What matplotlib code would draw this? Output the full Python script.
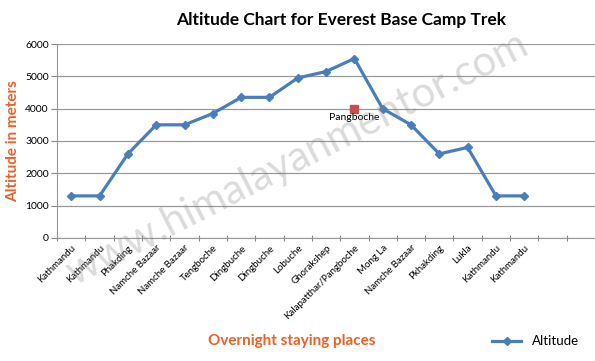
import matplotlib
matplotlib.use("Agg")
from matplotlib import pyplot as plt
import numpy as np

plt.rcParams['font.family'] = ['Lato', 'DejaVu Sans']

# Data
places = ["Kathmandu", "Kathmandu", "Phakding", "Namche Bazaar", "Namche Bazaar",
          "Tengboche", "Dingbuche", "Dingbuche", "Lobuche", "Ghorakshep",
          "Kalapatthar/Pangboche", "Mong La", "Namche Bazaar", "Pkhakding",
          "Lukla", "Kathmandu", "Kathmandu", "", ""]
altitude = [1300, 1300, 2600, 3500, 3500, 3850, 4350, 4350, 4950, 5150,
            5550, 4000, 3500, 2600, 2800, 1300, 1300]
extra_label = "Pangboche"
extra_index = 10
extra_value = 4000
yticks = [0, 1000, 2000, 3000, 4000, 5000, 6000]

orange = "#e8622a"
blue = "#4a7ebb"

fig = plt.figure(figsize=(5.95, 3.61), dpi=100)
ax = fig.add_axes([0.096, 0.341, 0.904, 0.537])

x = np.arange(len(altitude)) + 0.5
ax.plot(x, altitude, color=blue, lw=2.3, marker='D', ms=4.5, label="Altitude")
ax.plot([extra_index + 0.5], [extra_value], marker='s', color="#c0504d", ms=6, ls='none')
ax.text(extra_index + 0.5, extra_value - 130, extra_label, ha='center', va='top', fontsize=7.5)

ax.set_xlim(0, len(places))
ax.set_ylim(0, 6000)
ax.set_yticks(yticks)
ax.set_yticklabels([str(v) for v in yticks], fontsize=7.5)
ax.set_xticks(np.arange(len(places) + 1), minor=False)
ax.set_xticklabels([])
ax.set_xticks(np.arange(len(places)) + 0.5, minor=True)
ax.set_xticklabels(places, minor=True, rotation=45, ha='right', rotation_mode='anchor', fontsize=7)
ax.tick_params(axis='x', which='minor', length=0, pad=4)
ax.tick_params(axis='x', which='major', length=4, color='#888888', direction='inout')
ax.tick_params(axis='y', length=4, color='#888888', pad=2)
ax.grid(axis='y', color='#999999', lw=0.9)
ax.set_axisbelow(True)
for s in ['top', 'right']:
    ax.spines[s].set_visible(False)
ax.spines['left'].set_color('#999999')
ax.spines['bottom'].set_color('#999999')

fig.text(0.574, 0.945, "Altitude Chart for Everest Base Camp Trek", ha='center', va='center',
         fontsize=12.5, fontweight='bold')
fig.text(0.022, 0.61, "Altitude in meters", rotation=90, ha='center', va='center',
         fontsize=11, fontweight='bold', color=orange)
fig.text(0.49, 0.055, "Overnight staying places", ha='center', va='center',
         fontsize=11, fontweight='bold', color=orange)

# watermark
fig.text(0.5, 0.56, "www.himalayanmentor.com", rotation=27, ha='center', va='center',
         fontsize=30, color='#888888', alpha=0.3)

leg = fig.legend(loc='center', bbox_to_anchor=(0.9, 0.055), frameon=False, fontsize=9.5,
                 handlelength=2.2)

fig.savefig("out.png", dpi=100)
